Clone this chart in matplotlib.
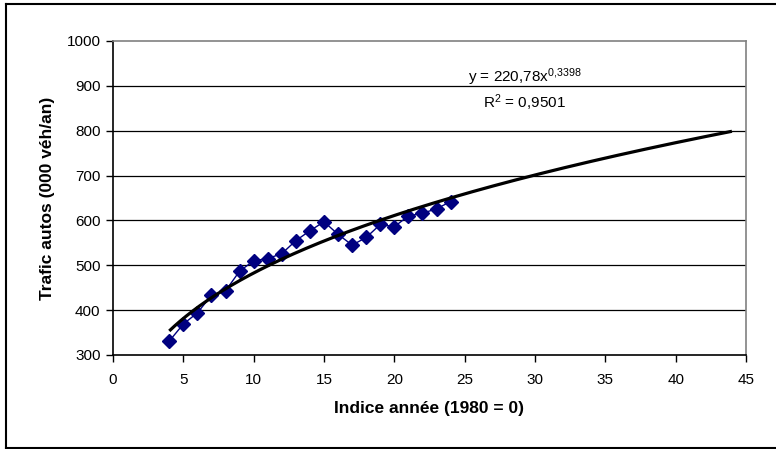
import matplotlib
matplotlib.use("Agg")
import matplotlib.pyplot as plt
import numpy as np
from matplotlib.lines import Line2D

plt.rcParams['font.family'] = ['Liberation Sans', 'DejaVu Sans']
plt.rcParams['mathtext.fontset'] = 'custom'
plt.rcParams['mathtext.rm'] = 'Liberation Sans'
plt.rcParams['mathtext.it'] = 'Liberation Sans:italic'
plt.rcParams['mathtext.bf'] = 'Liberation Sans:bold'
plt.rcParams['mathtext.default'] = 'regular'

years = [4, 5, 6, 7, 8, 9, 10, 11, 12, 13, 14, 15, 16, 17, 18, 19, 20, 21, 22, 23, 24]
trafic = [331, 369, 394, 433, 443, 487, 510, 515, 526, 555, 577, 597, 569, 545, 562, 591, 586, 610, 616, 626, 642]
fit_a = 220.78
fit_b = 0.3398
fit_x_range = (4, 44)
x_ticks = [0, 5, 10, 15, 20, 25, 30, 35, 40, 45]
y_ticks = [300, 400, 500, 600, 700, 800, 900, 1000]

W, H = 776, 449
fig = plt.figure(figsize=(W / 100, H / 100), dpi=100)

# outer frame (left, top, bottom visible)
for (x0, y0, x1, y1) in [(5.5, 3.5, 5.5, 447.5), (5.5, 3.5, 776, 3.5), (5.5, 447.5, 776, 447.5)]:
    fig.add_artist(Line2D([x0 / W, x1 / W], [1 - y0 / H, 1 - y1 / H], color='black', lw=1.5,
                          transform=fig.transFigure))

left, right, top, bottom = 113, 746, 41, 355
ax = fig.add_axes([left / W, 1 - bottom / H, (right - left) / W, (bottom - top) / H])

xf = np.linspace(fit_x_range[0], fit_x_range[1], 300)
yf = fit_a * xf ** fit_b

ax.plot(years, trafic, color='#000080', lw=1.0, marker='D', markersize=7,
        markerfacecolor='#000080', markeredgecolor='#000080', zorder=3)
ax.plot(xf, yf, color='black', lw=2.3, zorder=4, solid_capstyle='butt')

ax.set_xlim(0, 45)
ax.set_ylim(300, 1000)
ax.set_xticks(x_ticks)
ax.set_yticks(y_ticks)
ax.tick_params(axis='both', direction='out', length=5, width=1, color='black', labelsize=11)
ax.tick_params(axis='y', pad=4)
ax.tick_params(axis='x', pad=8)

for v in y_ticks[1:-1]:
    ax.axhline(v, color='black', lw=0.9, zorder=1)

ax.spines['left'].set_color('black')
ax.spines['bottom'].set_color('black')
ax.spines['top'].set_color('#808080')
ax.spines['right'].set_color('#808080')
for s in ax.spines.values():
    s.set_linewidth(1.2)

ax.set_xlabel('Indice année (1980 = 0)', fontsize=12.5, fontweight='bold', labelpad=10)
ax.set_ylabel('Trafic autos (000 véh/an)', fontsize=12.5, fontweight='bold', labelpad=8)

ax.text(0.65, 0.885, 'y = 220,78x$^{0{,}3398}$', transform=ax.transAxes, ha='center', va='center',
        fontsize=11)
ax.text(0.65, 0.803, 'R$^{2}$ = 0,9501', transform=ax.transAxes, ha='center', va='center',
        fontsize=11)

fig.savefig('out.png', dpi=100)
